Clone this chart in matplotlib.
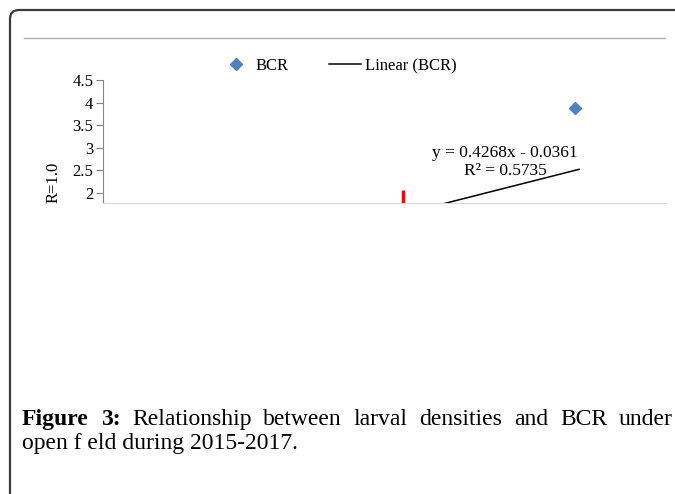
import matplotlib
matplotlib.use("Agg")
import matplotlib.pyplot as plt
from matplotlib.patches import FancyBboxPatch
from matplotlib.lines import Line2D

plt.rcParams['font.family'] = ['Liberation Serif', 'DejaVu Serif']

# data
bcr_x = [5.95]
bcr_y = [3.88]
slope = 0.4268
intercept = -0.0361
trend_x = [4.0, 6.0]
red_x = [3.69]
red_top = [2.07]
y_ticks = [2, 2.5, 3, 3.5, 4, 4.5]
y_tick_labels = ["2", "2.5", "3", "3.5", "4", "4.5"]
eq_text = "y = 0.4268x - 0.0361\nR\u00b2 = 0.5735"
caption_line1 = ["Figure", "3:", "Relationship", "between", "larval", "densities",
                 "and", "BCR", "under"]
caption_line2 = "open f eld during 2015-2017."

W, H = 675, 494
fig = plt.figure(figsize=(W / 100, H / 100), dpi=100)

# frame around the figure (drawn in inches so the corners stay round)
frame = FancyBboxPatch((10 / 100, -0.5), 7.5, (H - 10) / 100 + 0.5,
                       boxstyle="round,pad=0,rounding_size=0.09",
                       transform=fig.dpi_scale_trans, fill=False,
                       edgecolor="#3a3a3a", linewidth=1.6)
fig.patches.append(frame)
fig.add_artist(Line2D([24 / W, 665 / W], [1 - 38 / H, 1 - 38 / H],
                      color="#b0b0b0", linewidth=1, transform=fig.transFigure))

# chart area (only the top part is visible, the rest is cropped)
ax = fig.add_axes([103 / W, 1 - 203 / H, (665 - 103) / W, (203 - 80) / H])
ax.set_xlim(-0.26, 7.13)
ax.set_ylim(1.78, 4.5)

xs = [trend_x[0], trend_x[1]]
ys = [slope * v + intercept for v in xs]
ax.plot(xs, ys, color="black", linewidth=1.1, label="Linear (BCR)")
ax.plot(bcr_x, bcr_y, linestyle="none", marker="D", markersize=6.5,
        color="#4f81bd", label="BCR")
ax.vlines(red_x, 1.7, red_top, color="red", linewidth=2.5)

fig.text(505 / 100, (H - 162) / 100, eq_text, transform=fig.dpi_scale_trans,
         ha="center", va="center", fontsize=12.5, linespacing=1.15)

ax.set_yticks(y_ticks)
ax.set_yticklabels(y_tick_labels)
ax.tick_params(axis="y", direction="out", length=5, color="#868686",
               labelsize=12, pad=2)
ax.tick_params(axis="x", bottom=False, labelbottom=False)
for side in ["top", "right"]:
    ax.spines[side].set_visible(False)
ax.spines["left"].set_color("#868686")
ax.spines["bottom"].set_color("#d9d9d9")
ax.set_ylabel("R=1.0", fontsize=12)
ax.yaxis.set_label_coords(-0.073, 0.17)

handles, labels = ax.get_legend_handles_labels()
fig.legend(handles[::-1], labels[::-1], loc="center", ncol=2, frameon=False,
           bbox_to_anchor=(338 / W, 1 - 66 / H), fontsize=12,
           handlelength=1.95, columnspacing=2.4, handletextpad=0.2)

# caption, first line justified between the margins
fig.canvas.draw()
r = fig.canvas.get_renderer()
left, right = 22, 673
pieces = []
for i, w in enumerate(caption_line1):
    bold = i < 2
    t = fig.text(0, 0, w, fontsize=17, fontweight="bold" if bold else "normal",
                 transform=fig.dpi_scale_trans, va="baseline")
    pieces.append(t)
widths = [p.get_window_extent(r).width for p in pieces]
gap = (right - left - sum(widths)) / (len(pieces) - 1)
x = left
for p, wd in zip(pieces, widths):
    p.set_position((x / 100, (H - 425) / 100))
    x += wd + gap
fig.text(left / 100, (H - 449) / 100, caption_line2, fontsize=17,
         transform=fig.dpi_scale_trans, va="baseline")

fig.savefig("out.png", dpi=100)
